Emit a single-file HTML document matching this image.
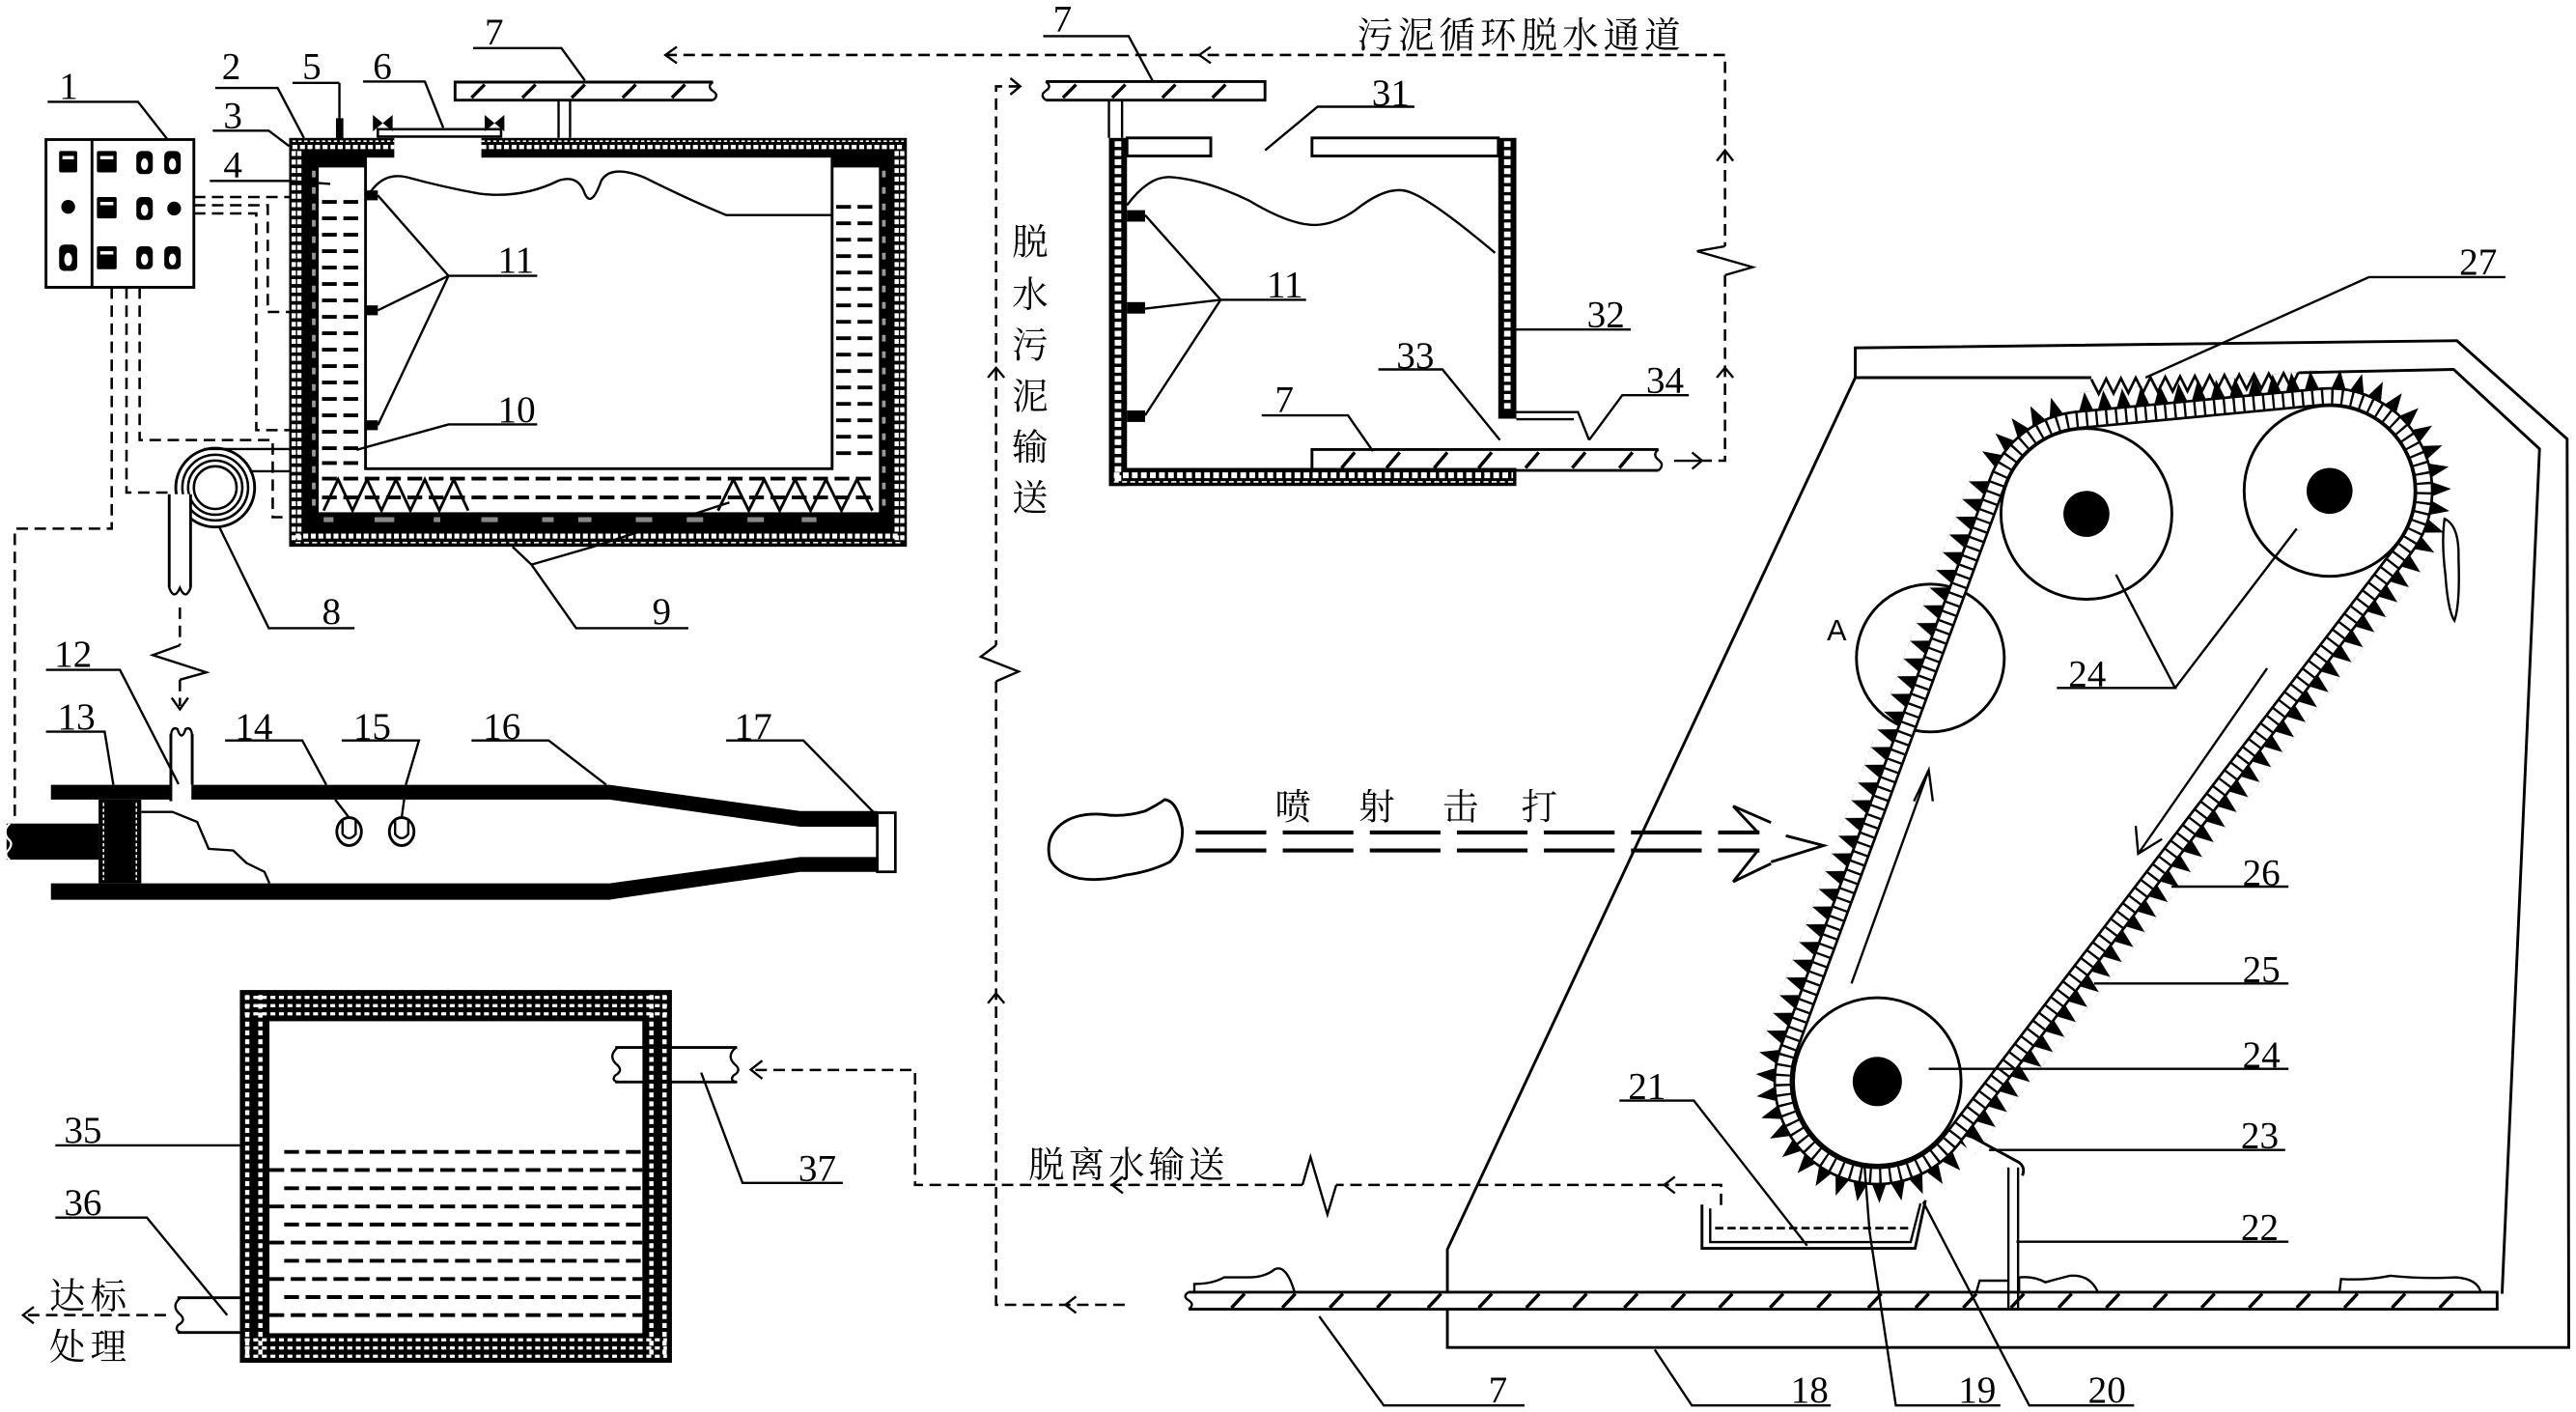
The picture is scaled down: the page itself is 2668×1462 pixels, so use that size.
<!DOCTYPE html>
<html><head><meta charset="utf-8">
<style>
html,body{margin:0;padding:0;background:#fff;}
svg{display:block}
.l{stroke:#000;stroke-width:1.4;fill:none}
.t{stroke:#000;stroke-width:1.7;fill:none}
.d{stroke:#000;stroke-width:1.5;fill:none;stroke-dasharray:7 4}
.n{font-family:"Liberation Serif",serif;font-size:23px;fill:#000}
.c{font-family:"Liberation Serif","Noto Serif CJK SC","Noto Sans CJK SC",serif;font-size:22px;fill:#000}
.h{stroke:#000;stroke-width:2;fill:none}
.jd{stroke:#000;stroke-width:2.3;fill:none;stroke-dasharray:9 4}
.wd{stroke:#fff;fill:none}
</style></head><body>
<svg width="2668" height="1462" viewBox="0 0 1568 860" preserveAspectRatio="none" xmlns="http://www.w3.org/2000/svg" xmlns:xlink="http://www.w3.org/1999/xlink">
<defs>
<pattern id="tp" patternUnits="userSpaceOnUse" x="63" y="0" width="11" height="11.5">
<polygon points="0,1.6 11,5.75 0,9.9" fill="#000"/>
</pattern>
<polygon id="tooth" points="63,-4.1 74,0 63,4.1" fill="#000"/>
</defs>
<rect x="0" y="0" width="1568" height="860" fill="#fff"/>

<!-- ============ Control box 1 ============ -->
<rect x="28" y="85" width="90" height="90" class="t" fill="#fff"/>
<line x1="56" y1="85" x2="56" y2="175" class="t"/>
<g fill="#000">
<rect x="36" y="92" width="11" height="13" rx="1"/>
<rect x="59" y="92" width="12" height="13" rx="1"/>
<rect x="59" y="120" width="12" height="13" rx="1"/>
<rect x="59" y="150" width="12" height="14" rx="1"/>
<rect x="83" y="92" width="10" height="14" rx="3"/>
<rect x="100" y="92" width="10" height="14" rx="3"/>
<rect x="83" y="120" width="10" height="14" rx="3"/>
<rect x="83" y="150" width="10" height="14" rx="3"/>
<rect x="100" y="150" width="10" height="14" rx="3"/>
<rect x="36" y="149" width="11" height="16" rx="3"/>
<circle cx="41.5" cy="126" r="4.2"/>
<circle cx="106" cy="127" r="4.2"/>
</g>
<g fill="#fff">
<rect x="38" y="95" width="7" height="2"/>
<rect x="61" y="95" width="8" height="2"/>
<rect x="61" y="123" width="8" height="2"/>
<rect x="61" y="153" width="8" height="2"/>
<ellipse cx="88" cy="100" rx="2.2" ry="3.5"/>
<ellipse cx="105" cy="100" rx="2.2" ry="3.5"/>
<ellipse cx="88" cy="128" rx="2.2" ry="3.5"/>
<ellipse cx="88" cy="158" rx="2.2" ry="3.5"/>
<ellipse cx="105" cy="158" rx="2.2" ry="3.5"/>
<ellipse cx="41.5" cy="158" rx="2.4" ry="4"/>
</g>

<!-- control dashed lines -->
<path class="d" d="M68,175V322H9V500"/>
<path class="d" d="M77,175V300H104"/>
<path class="d" d="M85,175V268H166V315H176"/>
<path class="d" d="M118,120H176"/>
<path class="d" d="M118,125H163V190H176"/>
<path class="d" d="M118,130H156V262H176"/>

<!-- ============ Tank (left) ============ -->
<rect x="176" y="84" width="376" height="249" fill="#000"/>
<rect x="194" y="102" width="341" height="210" fill="#fff"/>
<rect x="223" y="96" width="283" height="189" fill="#fff"/>
<rect x="240" y="82" width="53" height="15" fill="#fff"/>
<path class="wd" stroke-width="2.6" stroke-dasharray="3 1.6" d="M178,89.5H240M293,89.5H550"/>
<path class="wd" stroke-width="0.9" stroke-dasharray="2 1.6" d="M178,86H240M293,86H550"/>
<path class="wd" stroke-width="6" stroke-dasharray="3 2.2" d="M180.5,92V329M547.5,92V329"/>
<path stroke="#000" stroke-width="0.8" d="M180.5,92V329M547.5,92V329"/>
<path stroke="#999" stroke-width="2.2" stroke-dasharray="4 6" d="M191,104V310M538,104V310"/>
<path class="wd" stroke-width="3" stroke-dasharray="3 1.6" d="M180,326.5H548"/>
<path class="wd" stroke-width="0.9" stroke-dasharray="3 2" d="M180,330.5H548"/>
<g fill="#888">
<rect x="197" y="315" width="6" height="3"/><rect x="228" y="315" width="12" height="3"/><rect x="264" y="315" width="4" height="3"/>
<rect x="293" y="315" width="10" height="3"/><rect x="330" y="315" width="7" height="3"/><rect x="352" y="315" width="8" height="3"/>
<rect x="387" y="315" width="10" height="3"/><rect x="418" y="315" width="10" height="3"/><rect x="455" y="315" width="10" height="3"/><rect x="488" y="315" width="9" height="3"/>
</g>
<path class="t" d="M222.5,96V285.5H506.5V96"/>
<path class="jd" d="M196,123h25M196,133h25M196,143h25M196,153h25M196,163h25M196,173h25M196,183h25M196,193h25M196,203h25M196,213h25M196,223h25M196,233h25M196,243h25M196,253h25M196,263h25M196,273h25M196,282h25"/>
<path class="jd" d="M509,126h25M509,136h25M509,146h25M509,156h25M509,166h25M509,176h25M509,186h25M509,196h25M509,206h25M509,216h25M509,226h25M509,236h25M509,246h25M509,256h25M509,266h25M509,276h25"/>
<path class="jd" stroke-dasharray="8 4.5" d="M196,291.5H534M196,303H534"/>
<polyline class="t" points="197,311 205.8,292 214.6,311 223.4,292 232.2,311 241,292 249.8,311 258.6,292 267.4,311 276.2,292 285,311"/>
<polyline class="t" points="437,311 446.4,292 455.8,311 465.2,292 474.6,311 484,292 493.4,311 502.8,292 512.2,311 521.6,292 531,311"/>
<g fill="#000"><rect x="223" y="116" width="7" height="6"/><rect x="223" y="186" width="7" height="6"/><rect x="223" y="256" width="7" height="6"/></g>
<path class="l" d="M223,121 Q232,104 248,108 Q270,114 292,118 Q318,121 340,110 Q352,106 356,118 Q360,127 366,110 Q372,100 392,108 Q420,122 442,131 L506,131"/>
<rect x="230" y="78.7" width="75" height="4.5" fill="#fff" stroke="#000" stroke-width="1.5"/>
<g fill="#000">
<polygon points="227,70 233,75 227,80"/><polygon points="239,70 233,75 239,80"/>
<polygon points="295,70 301,75 295,80"/><polygon points="307,70 301,75 307,80"/>
</g>
<rect x="204.5" y="72" width="4.5" height="13" fill="#000"/>
<line x1="206.6" y1="50.5" x2="206.6" y2="74" class="l"/>
<path class="t" d="M434,50H277V61H434"/>
<path class="l" d="M434,50 q-4,2.5 0,5.5 q4,2.5 0,5.5"/>
<path class="h" d="M287,59.5l8,-8M318,59.5l8,-8M348,59.5l8,-8M379,59.5l8,-8M409,59.5l8,-8"/>
<path class="l" d="M340,61V84M347,61V84"/>

<text class="n" x="36" y="60">1</text>
<path class="l" d="M29,62H84L102,85"/>
<text class="n" x="135" y="48">2</text>
<path class="l" d="M131,53.6H169L185,84"/>
<text class="n" x="136" y="78">3</text>
<path class="l" d="M129.5,79.6H163.6L176,89"/>
<text class="n" x="136" y="108">4</text>
<path class="l" d="M127.7,110.2H176L201,112"/>
<text class="n" x="184" y="48">5</text>
<path class="l" d="M178,50.5H206.6"/>
<text class="n" x="227" y="48">6</text>
<path class="l" d="M221,49.7H258.6L269.8,77.8"/>
<text class="n" x="295" y="27">7</text>
<path class="l" d="M288,29.3H341.7L356,49"/>
<text class="n" x="303" y="166">11</text>
<path class="l" d="M327,168H273L230,119M273,168L230,189M273,168L230,259"/>
<text class="n" x="303" y="257">10</text>
<path class="l" d="M327,258.5H273L217,274"/>
<text class="n" x="196" y="380">8</text>
<path class="l" d="M215.8,382.6H163.6L133,320"/>
<text class="n" x="397" y="380">9</text>
<path class="l" d="M419,382.6H350.7L323.5,343.9L312,333M323.5,343.9L361,333L444,306"/>

<circle cx="131" cy="297" r="24" fill="#fff" stroke="#000" stroke-width="1.7"/>
<circle cx="131" cy="297" r="20" fill="none" stroke="#000" stroke-width="1.5"/>
<circle cx="131" cy="297" r="16.5" fill="none" stroke="#000" stroke-width="1.5"/>
<circle cx="131" cy="297" r="13" fill="#fff" stroke="#000" stroke-width="1.5"/>
<path class="l" d="M124,273.5H176M152,287H176"/>
<rect x="103" y="301" width="13" height="57" fill="#fff"/>
<path class="t" d="M103,301V358M116,301V358"/>
<path class="l" d="M103,358 Q106,366 109.5,358 Q113,366 116,358"/>
<path class="d" d="M109.5,370V393M109.5,414V430"/>
<polyline class="l" points="109.5,393 93,399 125.6,409.5 109.5,414"/>
<polyline class="l" points="104.5,425 109.5,432 114.5,425"/>

<!-- ============ Injector ============ -->
<polygon fill="#000" points="31,478 371,478 487,494 534,494 534,503.5 487,503.5 371,487 31,487"/>
<polygon fill="#000" points="31,538 371,538 487,522 534,522 534,531 487,531 371,548 31,548"/>
<rect x="534" y="495" width="11" height="36" fill="#fff" stroke="#000" stroke-width="1.6"/>
<rect x="104.5" y="470" width="12" height="18" fill="#fff"/>
<path class="t" d="M104,447V488M117,447V478"/>
<path class="l" d="M104,450 Q104,442 108,444 Q110.5,452 113,444 Q117,442 117,450"/>
<rect x="60" y="487" width="26" height="51" fill="#000"/>
<path class="wd" stroke-width="0.9" stroke-dasharray="2 1.5" d="M63,489V536M83,489V536"/>
<rect x="4" y="501.6" width="56" height="22" fill="#000"/>
<path d="M6,501.6 Q1,506 5,511 Q9,514 4,519 Q3,522 6,523.6" fill="none" stroke="#fff" stroke-width="1.3"/>
<polyline class="l" points="86,494.5 105,494.5 120,500.6 127,517 142,518 150,525.6 161,531 164,538"/>
<ellipse cx="212.5" cy="506.5" rx="7.5" ry="8.5" class="t" fill="#fff"/>
<ellipse cx="244.5" cy="506.5" rx="7.5" ry="8.5" class="t" fill="#fff"/>
<path class="l" d="M208.5,500V508Q212.5,513 216.5,508V500M240.5,500V508Q244.5,513 248.5,508V500"/>
<path class="l" d="M204,487L212.5,498M246,487L244.5,498"/>
<text class="n" x="33" y="406">12</text>
<path class="l" d="M28,408H73L108.7,477.6"/>
<text class="n" x="35" y="444">13</text>
<path class="l" d="M28,445.6H63.7L69,478"/>
<text class="n" x="143" y="450">14</text>
<path class="l" d="M137,451H184L198.6,478"/>
<text class="n" x="215" y="450">15</text>
<path class="l" d="M208,451H255L247,478"/>
<text class="n" x="294" y="450">16</text>
<path class="l" d="M287,451H334L369,478"/>
<text class="n" x="447" y="450">17</text>
<path class="l" d="M442,451H489L532,495"/>

<!-- ============ Chamber 31-34 ============ -->
<rect x="675" y="84" width="11" height="212" fill="#000"/>
<rect x="675" y="285" width="248" height="11" fill="#000"/>
<rect x="912" y="84" width="11" height="171" fill="#000"/>
<path class="wd" stroke-width="4" stroke-dasharray="3.5 2" d="M680.5,86V293M917.5,86V251"/>
<path class="wd" stroke-width="3.5" stroke-dasharray="3.5 2" d="M678,289.5H921"/>
<path class="wd" stroke-width="0.9" stroke-dasharray="3 2" d="M678,293.5H921"/>
<rect x="686" y="84" width="51" height="11" class="t" fill="#fff"/>
<rect x="798.6" y="84" width="113.4" height="11" class="t" fill="#fff"/>
<path class="l" d="M675,61V84M683,61V84"/>
<path class="l" d="M686,125 Q700,106 714,108 Q735,110 760,122 Q785,137 800,137 Q812,137 825,128 Q845,112 858,117 Q872,122 910,154"/>
<g fill="#000"><rect x="686" y="128" width="11" height="7"/><rect x="686" y="184" width="11" height="7"/><rect x="686" y="250" width="11" height="7"/></g>
<path class="l" d="M923,251H960.5L967.3,268M923,255.3H958"/>
<text class="n" x="835" y="64">31</text>
<path class="l" d="M861,65H802L770,91.6"/>
<text class="n" x="771" y="181">11</text>
<path class="l" d="M795,182.6H743L697,131M743,182.6L697,188M743,182.6L697,253"/>
<text class="n" x="966" y="199">32</text>
<path class="l" d="M923,200.7H992.6"/>
<text class="n" x="850" y="224">33</text>
<path class="l" d="M839,225H878L913,268"/>
<text class="n" x="1002" y="239">34</text>
<path class="l" d="M1028,240.7H987.5L967.3,268"/>
<text class="n" x="641" y="19">7</text>
<path class="l" d="M635,22H687L702,50"/>
<text class="n" x="776" y="251">7</text>
<path class="l" d="M768,253H820.5L835.7,274.8"/>
<path class="t" d="M636.6,49.7H770V61H636.6"/>
<path class="l" d="M636.6,49.7 q4,3 0,5.6 q-4,2.7 0,5.7"/>
<path class="h" d="M647,59.5l8,-8M677,59.5l8,-8M707.5,59.5l8,-8M738,59.5l8,-8"/>
<path class="t" d="M1009.5,273.8H798.6V286.5H1009.5"/>
<path class="l" d="M1009.5,273.8 q-4,3 0,6.3 q4,3 0,6.4"/>
<path class="h" d="M816.6,285l8,-9.5M844,285l8,-9.5M873,285l8,-9.5M900,285l8,-9.5M928.6,285l8,-9.5M957,285l8,-9.5M985.7,285l8,-9.5"/>

<text class="c" x="616" y="155">脱</text>
<text class="c" x="616" y="187">水</text>
<text class="c" x="616" y="218">污</text>
<text class="c" x="616" y="249">泥</text>
<text class="c" x="616" y="280">输</text>
<text class="c" x="616" y="311">送</text>
<text class="c" x="826" y="29" letter-spacing="3">污泥循环脱水通道</text>

<path class="d" d="M405,33.5H1050V150M1050,167.6V280.6H1036"/>
<polyline class="l" points="1050,150 1033,153 1066.8,162.7 1050,167.6"/>
<line x1="1019" y1="280.6" x2="1036" y2="280.6" class="l"/>
<polyline class="l" points="412,28.5 405,33.5 412,38.5"/>
<polyline class="l" points="737,28.5 730,33.5 737,38.5"/>
<polyline class="l" points="1045,98 1050,91.6 1055,98"/>
<polyline class="l" points="1045,230 1050,224 1055,230"/>
<polyline class="l" points="1030,275.6 1036,280.6 1030,285.6"/>
<path class="d" d="M621,52.6H606.3V393M606.3,415V794.7H688"/>
<polyline class="l" points="606.3,393 597,400 620,409 606.3,415"/>
<polyline class="l" points="615,47.6 621,52.6 615,57.6"/>
<polyline class="l" points="601.3,230 606.3,224 611.3,230"/>
<polyline class="l" points="601.3,611 606.3,605 611.3,611"/>
<polyline class="l" points="655,789.7 648.5,794.7 655,799.7"/>
<path class="d" d="M1047.6,734V721.7H813.4M792.8,721.7H557V651.7H457"/>
<polyline class="l" points="792.8,721.7 797.7,704.7 808,739.7 813.4,721.7"/>
<polyline class="l" points="683.5,716.7 677,721.7 683.5,726.7"/>
<polyline class="l" points="1019.5,716.7 1013,721.7 1019.5,726.7"/>
<polyline class="l" points="464,646 457,651.5 464,657"/>
<text class="c" x="626" y="717" letter-spacing="2.4">脱离水输送</text>

<!-- ============ Settling tank 35 ============ -->
<rect x="146" y="603" width="263" height="227" fill="#000"/>
<rect x="164" y="622" width="227" height="190" fill="#fff"/>
<path class="wd" stroke-width="2.6" stroke-dasharray="3 2.4" d="M150.5,606V827M158.5,606V827M396.5,606V827M404.5,606V827"/>
<path class="wd" stroke-width="1.9" stroke-dasharray="3 2.2" d="M149,607.5H406M149,612.5H406M149,617.5H406M149,816H406M149,821H406M149,826H406"/>
<path class="jd" stroke-width="2" stroke-dasharray="12 8" d="M173,701.6H391M164,712.6H391M173,723.7H391M164,734.8H391M173,745.8H391M164,756.8H391M173,767.9H391M164,779H391M173,790H391M164,801H391"/>
<rect x="374.5" y="638" width="16.5" height="21" fill="#fff"/>
<rect x="409" y="638" width="39.7" height="21" fill="#fff"/>
<path class="t" d="M374.5,638H448.7M374.5,659H448.7"/>
<path class="l" d="M376,638 Q370,643 375,648 Q380,652 374.5,655 Q372,658 376,659"/>
<path class="l" d="M448,638 Q442,643 447,648 Q452,652 446.5,655 Q444,658 448,659"/>
<rect x="108" y="790.4" width="38" height="21.2" fill="#fff"/>
<path class="t" d="M108,790.4H146M108,811.6H146"/>
<path class="l" d="M110,790.4 Q104,795 109,800 Q114,804 108.5,807 Q106,810 110,811.6"/>
<text class="n" x="39" y="696">35</text>
<path class="l" d="M33.7,697.6H146"/>
<text class="n" x="39" y="740">36</text>
<path class="l" d="M33.7,741.6H89.4L138.3,801"/>
<text class="n" x="486" y="719">37</text>
<path class="l" d="M513,720.5H452L426.8,653.3"/>
<path class="d" d="M101,801H14"/>
<polyline class="l" points="20.5,796 14,801 20.5,806"/>
<text class="c" x="30" y="797" letter-spacing="3">达标</text>
<text class="c" x="30" y="828" letter-spacing="3">处理</text>

<!-- ============ Spray ============ -->
<path class="t" d="M639,523 Q636,510 646,502 Q655,495 671,496 Q684,498 697,494 Q705,490 709,487 Q717,488 719.7,505 Q720,518 712,525 Q700,531 685,533 Q670,537 657,535 Q643,532 639,523 Z"/>
<path stroke="#000" stroke-width="2.4" fill="none" stroke-dasharray="43 10" d="M727.8,507H1071M727.8,518H1071"/>
<polyline class="t" points="1070,507 1055,491 1078,501"/>
<polyline class="t" points="1087,509 1110,515 1078,525"/>
<polyline class="t" points="1070,518 1055,537 1078,526"/>
<text class="c" x="776" y="499" font-size="20">喷</text>
<text class="c" x="827" y="499" font-size="20">射</text>
<text class="c" x="878" y="499" font-size="20">击</text>
<text class="c" x="926" y="499" font-size="20">打</text>

<!-- ============ Machine housing ============ -->
<path class="t" d="M1129.3,230 L1129.3,211.9 L1495.5,207.5 L1562.6,267.4 L1563.6,820.7 L881,820.7 L881,761 Z"/>
<path class="t" d="M1129.3,230 L1273,230 M1399,227 L1493.5,225 L1545.8,273.4 L1523,788"/>
<rect x="723.5" y="787" width="796.5" height="10.4" fill="#fff"/>
<path class="t" d="M723.5,787H1520V797.4H723.5"/>
<path class="l" d="M723.5,787 q-4,2.5 0,5 q4,2.5 0,5.4"/>
<path class="h" d="M749.6,796.5l8,-8.5M780.5,796.5l8,-8.5M809.4,796.5l8,-8.5M838.3,796.5l8,-8.5M869.2,796.5l8,-8.5M900.1,796.5l8,-8.5M929,796.5l8,-8.5M957.8,796.5l8,-8.5M988.7,796.5l8,-8.5M1017.6,796.5l8,-8.5M1046.5,796.5l8,-8.5M1077.4,796.5l8,-8.5M1106.3,796.5l8,-8.5M1137.2,796.5l8,-8.5M1166,796.5l8,-8.5M1195,796.5l8,-8.5M1224,796.5l8,-8.5M1253,796.5l8,-8.5M1282,796.5l8,-8.5M1311,796.5l8,-8.5M1340,796.5l8,-8.5M1369,796.5l8,-8.5M1398,796.5l8,-8.5M1427,796.5l8,-8.5M1456,796.5l8,-8.5M1485,796.5l8,-8.5"/>
<path class="l" d="M727,787 L727,782 Q738,782 745,778 L760,778 Q770,778 776,773 Q783,770 788,787"/>
<path class="l" d="M1203,787 L1205,780 L1222,780 M1229,787 L1229,778 Q1238,777 1245,781 Q1252,779 1260,777 Q1272,776 1277,787"/>
<path class="l" d="M1424,787 L1425,779 Q1440,780 1455,777 Q1475,779 1495,778 Q1508,779 1510,787"/>

<circle cx="1175" cy="400.8" r="45" class="t"/>
<text x="1112" y="390" font-family="Liberation Sans, sans-serif" font-size="18" fill="#000">A</text>
<circle cx="1142.7" cy="658.7" r="51" fill="#fff" class="t"/>
<circle cx="1270" cy="313" r="52" fill="#fff" class="t"/>
<circle cx="1418" cy="299" r="52" fill="#fff" class="t"/>
<circle cx="1142.7" cy="658.7" r="15" fill="#000"/>
<circle cx="1270" cy="313" r="14" fill="#000"/>
<circle cx="1418" cy="299" r="14" fill="#000"/>

<path d="M1088.74,638.83 L1216.04,293.13 A57.5,57.5 0 0 1 1264.59,255.76 L1412.59,241.76 A57.5,57.5 0 0 1 1463.66,333.95 L1188.36,693.65 A57.5,57.5 0 0 1 1088.74,638.83 Z" fill="none" stroke="#000" stroke-width="11.5"/>
<path d="M1088.74,638.83 L1216.04,293.13 A57.5,57.5 0 0 1 1264.59,255.76 L1412.59,241.76 A57.5,57.5 0 0 1 1463.66,333.95 L1188.36,693.65 A57.5,57.5 0 0 1 1088.74,638.83 Z" fill="none" stroke="#fff" stroke-width="8.3"/>
<path d="M1088.74,638.83 L1216.04,293.13 A57.5,57.5 0 0 1 1264.59,255.76 L1412.59,241.76 A57.5,57.5 0 0 1 1463.66,333.95 L1188.36,693.65 A57.5,57.5 0 0 1 1088.74,638.83 Z" fill="none" stroke="#000" stroke-width="8.5" stroke-dasharray="1.4 4.6"/>
<g transform="translate(1142.7,658.7) rotate(200.2)"><rect x="63" y="0" width="11" height="368" fill="url(#tp)"/></g>
<g transform="translate(1270,313) rotate(264.6)"><rect x="63" y="0" width="11" height="148" fill="url(#tp)"/></g>
<g transform="translate(1418,299) rotate(37.43)"><rect x="63" y="0" width="11" height="452" fill="url(#tp)"/></g>
<g transform="translate(1142.7,658.7)">
<use xlink:href="#tooth" href="#tooth" transform="rotate(47)"/><use xlink:href="#tooth" href="#tooth" transform="rotate(57.5)"/>
<use xlink:href="#tooth" href="#tooth" transform="rotate(68)"/><use xlink:href="#tooth" href="#tooth" transform="rotate(78.5)"/>
<use xlink:href="#tooth" href="#tooth" transform="rotate(89)"/><use xlink:href="#tooth" href="#tooth" transform="rotate(99.5)"/>
<use xlink:href="#tooth" href="#tooth" transform="rotate(110)"/><use xlink:href="#tooth" href="#tooth" transform="rotate(120.5)"/>
<use xlink:href="#tooth" href="#tooth" transform="rotate(131)"/><use xlink:href="#tooth" href="#tooth" transform="rotate(141.5)"/>
<use xlink:href="#tooth" href="#tooth" transform="rotate(152)"/><use xlink:href="#tooth" href="#tooth" transform="rotate(162.5)"/>
<use xlink:href="#tooth" href="#tooth" transform="rotate(173)"/><use xlink:href="#tooth" href="#tooth" transform="rotate(183.5)"/>
<use xlink:href="#tooth" href="#tooth" transform="rotate(194)"/>
</g>
<g transform="translate(1270,313)">
<use xlink:href="#tooth" href="#tooth" transform="rotate(211)"/><use xlink:href="#tooth" href="#tooth" transform="rotate(221.5)"/>
<use xlink:href="#tooth" href="#tooth" transform="rotate(232)"/><use xlink:href="#tooth" href="#tooth" transform="rotate(242.5)"/>
<use xlink:href="#tooth" href="#tooth" transform="rotate(253)"/>
</g>
<g transform="translate(1418,299)">
<use xlink:href="#tooth" href="#tooth" transform="rotate(275)"/><use xlink:href="#tooth" href="#tooth" transform="rotate(285.5)"/>
<use xlink:href="#tooth" href="#tooth" transform="rotate(296)"/><use xlink:href="#tooth" href="#tooth" transform="rotate(306.5)"/>
<use xlink:href="#tooth" href="#tooth" transform="rotate(317)"/><use xlink:href="#tooth" href="#tooth" transform="rotate(327.5)"/>
<use xlink:href="#tooth" href="#tooth" transform="rotate(338)"/><use xlink:href="#tooth" href="#tooth" transform="rotate(348.5)"/>
<use xlink:href="#tooth" href="#tooth" transform="rotate(359)"/><use xlink:href="#tooth" href="#tooth" transform="rotate(369.5)"/>
<use xlink:href="#tooth" href="#tooth" transform="rotate(380)"/><use xlink:href="#tooth" href="#tooth" transform="rotate(390.5)"/>
</g>
<polyline stroke="#000" stroke-width="1.6" fill="none" points="1273,231 1277.5,239.9 1282,230.7 1286.5,239.6 1291,230.4 1295.5,239.3 1300,230.1 1304.5,239 1309,229.9 1313.5,238.7 1318,229.6 1322.5,238.4 1327,229.3 1331.5,238.2 1336,229 1340.5,237.9 1345,228.7 1349.5,237.6 1354,228.4 1358.5,237.3 1363,228.2 1367.5,237 1372,227.9 1376.5,236.7 1381,227.6 1385.5,236.4 1390,227.3 1394.5,236.2 1399,227"/>
<path class="l" d="M1488,316 Q1497,320 1496.5,340 Q1497.5,368 1494,378 Q1490,372 1488.5,350 Q1486,330 1488,316 Z"/>
<path class="l" d="M1127,599L1174,469M1165,488L1174,469L1176.5,488"/>
<path class="l" d="M1380,407L1301.5,520M1300,503L1301.5,520L1316,511"/>

<path class="t" d="M1036,733.7V760.3H1165.7L1172,731"/>
<path class="l" d="M1041,736V756.5H1163L1169,733"/>
<path stroke="#000" stroke-width="1.6" fill="none" stroke-dasharray="5 2.5" d="M1044,748H1162"/>
<path class="t" d="M1197,690.6L1229,708Q1233,711 1231,716"/>
<path class="l" d="M1222.5,711V797M1228.4,711V797"/>

<text class="n" x="1365" y="539">26</text>
<path class="l" d="M1321.7,540H1393"/>
<text class="n" x="1365" y="598">25</text>
<path class="l" d="M1274.7,599H1393"/>
<text class="n" x="1365" y="650">24</text>
<path class="l" d="M1174,651H1393"/>
<text class="n" x="1364" y="699">23</text>
<path class="l" d="M1210.7,700.4H1391"/>
<text class="n" x="1364" y="755">22</text>
<path class="l" d="M1227.4,756.3H1393"/>
<text class="n" x="1259" y="418">24</text>
<path class="l" d="M1252,419H1324L1288,350M1324,419L1398,322"/>
<text class="n" x="1497" y="167">27</text>
<path class="l" d="M1525,168.8H1442L1306,230"/>
<text class="n" x="991" y="669">21</text>
<path class="l" d="M985.7,670.3H1031L1100,758.7"/>
<text class="n" x="906" y="854">7</text>
<path class="l" d="M803,801.7L842.3,856H928"/>
<text class="n" x="1090" y="854">18</text>
<path class="l" d="M1007.2,822L1029.8,856H1114.4"/>
<text class="n" x="1192" y="854">19</text>
<path class="l" d="M1135,711L1138,750L1154,856H1217.6"/>
<text class="n" x="1271" y="854">20</text>
<path class="l" d="M1170.6,732L1235.2,856H1299"/>
</svg>
</body></html>
